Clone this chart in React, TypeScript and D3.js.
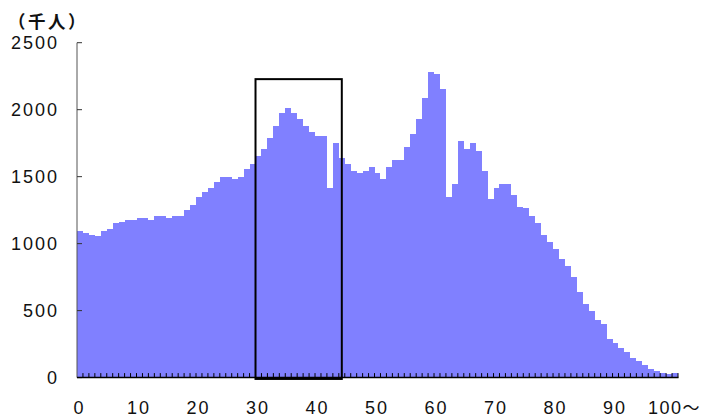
import React from "react";
import * as d3 from "d3";

const ages: number[] = d3.range(0, 101);
const population: number[] = [
  1094, 1079, 1064, 1057, 1094, 1109, 1154, 1164, 1176, 1176,
  1191, 1191, 1176, 1206, 1206, 1191, 1206, 1206, 1250, 1290,
  1348, 1385, 1414, 1458, 1495, 1495, 1480, 1495, 1555, 1594,
  1654, 1706, 1788, 1877, 1974, 2012, 1974, 1929, 1877, 1832,
  1803, 1803, 1413, 1751, 1639, 1594, 1542, 1527, 1542, 1572,
  1527, 1482, 1572, 1624, 1624, 1721, 1818, 1929, 2086, 2280,
  2265, 2153, 1347, 1445, 1765, 1705, 1750, 1691, 1541, 1333,
  1415, 1445, 1445, 1363, 1273, 1265, 1206, 1154, 1064, 1012,
  960, 884, 832, 750, 638, 548, 496, 429, 399, 287,
  257, 220, 190, 146, 123, 93, 64, 49, 34, 27,
  34,
];
const yTicks: number[] = [0, 500, 1000, 1500, 2000, 2500];
const xLabelAges: number[] = [0, 10, 20, 30, 40, 50, 60, 70, 80, 90, 100];
const xLabelTexts: string[] = ["0", "10", "20", "30", "40", "50", "60", "70", "80", "90", "100"];
const lastSuffix = "～";
const unitLabel = "（千人）";
const highlightAges: number[] = [30, 44.5];
const highlightTop = 2228;

const W = 706;
const H = 418;
const CJK = "'Noto Sans CJK JP', sans-serif";
const NUM = "'Liberation Sans', Arial, sans-serif";

export default function App() {
  const x = d3.scaleLinear().domain([0, 101]).range([77, 678]);
  const y = d3.scaleLinear().domain([0, 2500]).range([377.6, 42.7]);

  return (
    <svg
      width={W}
      height={H}
      style={{ position: "absolute", left: 0, top: 0, background: "#fff" }}
    >
      <text x={8} y={27.5} fontFamily={CJK} fontSize={17.5} fontWeight="bold" letterSpacing={2.5} fill="#111">
        {unitLabel}
      </text>
      {ages.map((a, i) => (
        <rect
          key={a}
          x={x(a)}
          y={y(population[i])}
          width={x(a + 1) - x(a)}
          height={y(0) - y(population[i])}
          fill="#8080ff"
          shapeRendering="crispEdges"
        />
      ))}
      {/* y axis */}
      <line x1={77} x2={77} y1={y(2500)} y2={y(0)} stroke="#555" strokeWidth={1} />
      {yTicks.map((t) => (
        <g key={t}>
          <line x1={77} x2={82} y1={y(t)} y2={y(t)} stroke="#333" strokeWidth={1} />
          <text
            x={59}
            y={y(t) + 6.5}
            textAnchor="end"
            fontFamily={NUM}
            fontSize={18}
            letterSpacing={2}
            fill="#111"
          >
            {t}
          </text>
        </g>
      ))}
      {/* x axis */}
      <line x1={77} x2={678.5} y1={y(0)} y2={y(0)} stroke="#000" strokeWidth={1.5} />
      {d3.range(1, 102).map((a) => (
        <line
          key={a}
          x1={x(a)}
          x2={x(a)}
          y1={y(0)}
          y2={y(0) - 4.5}
          stroke="#000"
          strokeWidth={1}
        />
      ))}
      {xLabelAges.map((a, i) => (
        <text
          key={a}
          x={a === 100 ? 648 : x(a) + 2.5}
          y={413.5}
          textAnchor={a === 100 ? "start" : "middle"}
          fontFamily={NUM}
          fontSize={18}
          letterSpacing={a === 100 ? 1.5 : 2}
          fill="#111"
        >
          {xLabelTexts[i]}
          {a === 100 ? <tspan fontFamily={CJK} fontSize={17} letterSpacing={0}>{lastSuffix}</tspan> : null}
        </text>
      ))}
      {/* highlight box */}
      <rect
        x={x(highlightAges[0])}
        y={y(highlightTop)}
        width={x(highlightAges[1]) - x(highlightAges[0])}
        height={y(-10) - y(highlightTop)}
        fill="none"
        stroke="#000"
        strokeWidth={2}
      />
    </svg>
  );
}
